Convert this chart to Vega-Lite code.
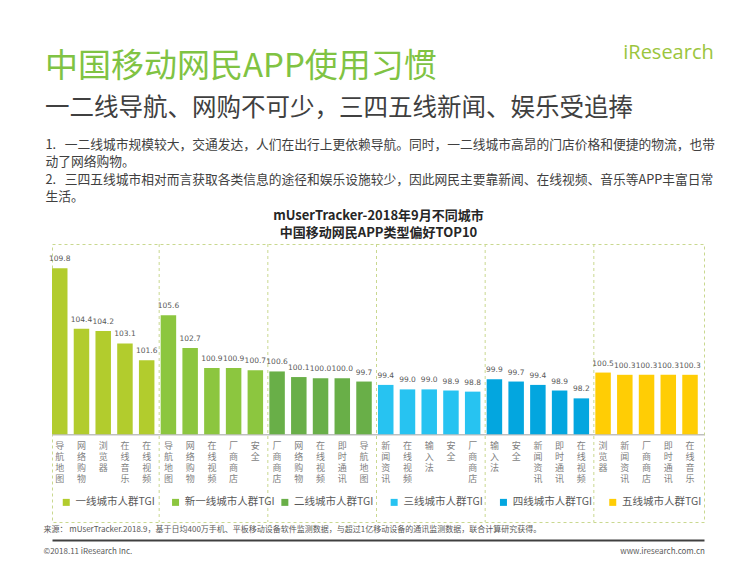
{
  "$schema": "https://vega.github.io/schema/vega-lite/v6.json",
  "width": 652,
  "height": 278,
  "autosize": {"type": "none"},
  "padding": {"left": 52, "top": 244, "right": 46, "bottom": 41},
  "background": "white",
  "config": {
    "view": {"stroke": "#C9D88F", "strokeDash": [3, 3], "strokeWidth": 1},
    "font": "Noto Sans CJK SC"
  },
  "title": {
    "text": "中国移动网民APP使用习惯",
    "subtitle": "一二线导航、网购不可少，三四五线新闻、娱乐受追捧",
    "anchor": "start",
    "frame": "group",
    "orient": "top",
    "dx": -7,
    "offset": -78,
    "font": "Noto Sans CJK SC",
    "fontSize": 33,
    "fontWeight": "normal",
    "color": "#80C343",
    "subtitleFont": "Noto Sans CJK SC",
    "subtitleFontSize": 24.5,
    "subtitleColor": "#404040",
    "subtitlePadding": 13
  },
  "data": {
    "values": [
      {"tier": "一线城市人群TGI", "rank": 1, "app": "导航地图", "tgi": 109.8},
      {"tier": "一线城市人群TGI", "rank": 2, "app": "网络购物", "tgi": 104.4},
      {"tier": "一线城市人群TGI", "rank": 3, "app": "浏览器", "tgi": 104.2},
      {"tier": "一线城市人群TGI", "rank": 4, "app": "在线音乐", "tgi": 103.1},
      {"tier": "一线城市人群TGI", "rank": 5, "app": "在线视频", "tgi": 101.6},
      {"tier": "新一线城市人群TGI", "rank": 1, "app": "导航地图", "tgi": 105.6},
      {"tier": "新一线城市人群TGI", "rank": 2, "app": "网络购物", "tgi": 102.7},
      {"tier": "新一线城市人群TGI", "rank": 3, "app": "在线视频", "tgi": 100.9},
      {"tier": "新一线城市人群TGI", "rank": 4, "app": "厂商商店", "tgi": 100.9},
      {"tier": "新一线城市人群TGI", "rank": 5, "app": "安全", "tgi": 100.7},
      {"tier": "二线城市人群TGI", "rank": 1, "app": "厂商商店", "tgi": 100.6},
      {"tier": "二线城市人群TGI", "rank": 2, "app": "网络购物", "tgi": 100.1},
      {"tier": "二线城市人群TGI", "rank": 3, "app": "在线视频", "tgi": 100.0},
      {"tier": "二线城市人群TGI", "rank": 4, "app": "即时通讯", "tgi": 100.0},
      {"tier": "二线城市人群TGI", "rank": 5, "app": "导航地图", "tgi": 99.7},
      {"tier": "三线城市人群TGI", "rank": 1, "app": "新闻资讯", "tgi": 99.4},
      {"tier": "三线城市人群TGI", "rank": 2, "app": "在线视频", "tgi": 99.0},
      {"tier": "三线城市人群TGI", "rank": 3, "app": "输入法", "tgi": 99.0},
      {"tier": "三线城市人群TGI", "rank": 4, "app": "安全", "tgi": 98.9},
      {"tier": "三线城市人群TGI", "rank": 5, "app": "厂商商店", "tgi": 98.8},
      {"tier": "四线城市人群TGI", "rank": 1, "app": "输入法", "tgi": 99.9},
      {"tier": "四线城市人群TGI", "rank": 2, "app": "安全", "tgi": 99.7},
      {"tier": "四线城市人群TGI", "rank": 3, "app": "新闻资讯", "tgi": 99.4},
      {"tier": "四线城市人群TGI", "rank": 4, "app": "即时通讯", "tgi": 98.9},
      {"tier": "四线城市人群TGI", "rank": 5, "app": "在线视频", "tgi": 98.2},
      {"tier": "五线城市人群TGI", "rank": 1, "app": "浏览器", "tgi": 100.5},
      {"tier": "五线城市人群TGI", "rank": 2, "app": "新闻资讯", "tgi": 100.3},
      {"tier": "五线城市人群TGI", "rank": 3, "app": "厂商商店", "tgi": 100.3},
      {"tier": "五线城市人群TGI", "rank": 4, "app": "即时通讯", "tgi": 100.3},
      {"tier": "五线城市人群TGI", "rank": 5, "app": "在线音乐", "tgi": 100.3}
    ]
  },
  "transform": [{"calculate": "datum.tier + '|' + datum.app", "as": "key"}],
  "layer": [
    {
      "mark": {"type": "rule", "strokeDash": [3, 3], "color": "#C9D88F", "strokeWidth": 1, "xOffset": -1.5},
      "encoding": {
        "x": {"field": "key", "type": "nominal", "sort": null, "bandPosition": 0, "axis": null},
        "strokeOpacity": {
          "condition": {"test": "datum.rank === 1 && datum.tier !== '一线城市人群TGI'", "value": 1},
          "value": 0
        }
      }
    },
    {
      "mark": {"type": "bar"},
      "encoding": {
        "x": {
          "field": "key",
          "type": "nominal",
          "sort": null,
          "scale": {"paddingInner": 0.287, "paddingOuter": 0.1435, "align": 0},
          "axis": {
            "orient": "bottom",
            "offset": -87.7,
            "domainColor": "#BFBFBF",
            "domainWidth": 1.5,
            "ticks": false,
            "grid": false,
            "labelExpr": "split(split(datum.value, '|')[1], '')",
            "labelAngle": 0,
            "labelAlign": "center",
            "labelBaseline": "top",
            "labelPadding": 7,
            "labelFont": "Noto Sans CJK SC",
            "labelFontSize": 9,
            "labelLineHeight": 11,
            "labelColor": "#7F7F7F",
            "labelOverlap": false,
            "labelBound": false,
            "title": [
              "来源： mUserTracker.2018.9，基于日均400万手机、平板移动设备软件监测数据，与超过1亿移动设备的通讯监测数据，联合计算研究获得。",
              "©2018.11 iResearch Inc.\u3000\u3000\u3000\u3000\u3000\u3000\u3000\u3000\u3000\u3000\u3000\u3000\u3000\u3000\u3000\u3000\u3000\u3000\u3000\u3000\u3000\u3000\u3000\u3000\u3000\u3000\u3000\u3000\u3000\u3000\u3000\u3000\u3000\u3000\u3000\u3000\u3000\u3000\u3000\u3000\u3000\u3000\u3000\u3000\u3000\u3000\u3000\u3000\u3000\u3000\u3000\u3000\u3000\u3000\u3000\u3000\u3000\u3000\u3000\u3000\u3000www.iresearch.com.cn"
            ],
            "titleX": -9,
            "titleY": 96.7,
            "titleAlign": "left",
            "titleBaseline": "alphabetic",
            "titleFont": "Noto Sans CJK SC",
            "titleFontSize": 8,
            "titleFontWeight": "normal",
            "titleColor": "#595959",
            "titleLineHeight": 22,
            "titleLimit": 2000
          }
        },
        "y": {
          "field": "tgi",
          "type": "quantitative",
          "scale": {"domain": [87.18, 111.96], "nice": false, "zero": false},
          "axis": {
            "orient": "left",
            "domain": false,
            "ticks": false,
            "labels": false,
            "grid": false,
            "title": [
              "1.\u00a0\u00a0\u00a0一二线城市规模较大，交通发达，人们在出行上更依赖导航。同时，一二线城市高昂的门店价格和便捷的物流，也带",
              "\u3000\u00a0\u00a0动了网络购物。",
              "2.\u00a0\u00a0\u00a0三四五线城市相对而言获取各类信息的途径和娱乐设施较少，因此网民主要靠新闻、在线视频、音乐等APP丰富日常",
              "\u3000\u00a0\u00a0生活。"
            ],
            "titleAngle": 0,
            "titleX": -7,
            "titleY": -96,
            "titleAlign": "left",
            "titleBaseline": "alphabetic",
            "titleFont": "Noto Sans CJK SC",
            "titleFontSize": 12.75,
            "titleFontWeight": "normal",
            "titleColor": "#404040",
            "titleLineHeight": 17.5,
            "titleLimit": 2000
          }
        },
        "y2": {"datum": 95},
        "color": {
          "field": "tier",
          "type": "nominal",
          "scale": {
            "domain": ["一线城市人群TGI", "新一线城市人群TGI", "二线城市人群TGI", "三线城市人群TGI", "四线城市人群TGI", "五线城市人群TGI"],
            "range": ["#B2CC2D", "#8CC63F", "#69AF48", "#27C3F1", "#03A6DF", "#FFCD05"]
          },
          "legend": {
            "orient": "none",
            "legendX": 9,
            "legendY": 253,
            "direction": "horizontal",
            "columns": 6,
            "gridAlign": "all",
            "columnPadding": 4.3,
            "symbolType": "square",
            "symbolSize": 49,
            "symbolStrokeWidth": 0,
            "labelFont": "Noto Sans CJK SC",
            "labelFontSize": 10.5,
            "labelColor": "#595959",
            "labelOffset": 4,
            "labelLimit": 200,
            "title": null
          }
        }
      }
    },
    {
      "mark": {"type": "text", "dy": -7, "baseline": "alphabetic", "align": "center", "font": "DejaVu Sans", "fontSize": 7.5, "color": "#595959"},
      "encoding": {
        "x": {
          "field": "key",
          "type": "nominal",
          "sort": null,
          "axis": {
            "orient": "top",
            "offset": -296,
            "labels": false,
            "ticks": true,
            "tickSize": 1,
            "tickOpacity": 0,
            "grid": false,
            "domain": true,
            "domainColor": "#404040",
            "domainWidth": 2,
            "zindex": 2,
            "title": ["mUserTracker-2018年9月不同城市", "中国移动网民APP类型偏好TOP10"],
            "titleX": 326,
            "titleY": -321,
            "titleAlign": "center",
            "titleBaseline": "alphabetic",
            "titleFont": "Noto Sans CJK SC",
            "titleFontSize": 13,
            "titleFontWeight": "bold",
            "titleColor": "#262626",
            "titleLineHeight": 17,
            "titleLimit": 2000
          }
        },
        "y": {
          "field": "tgi",
          "type": "quantitative",
          "axis": {
            "orient": "right",
            "domain": false,
            "ticks": false,
            "labels": false,
            "grid": false,
            "title": "iResearch",
            "titleAngle": 0,
            "titleX": -36,
            "titleY": -186,
            "titleAlign": "center",
            "titleBaseline": "alphabetic",
            "titleFont": "Open Sans",
            "titleFontSize": 20,
            "titleFontWeight": "normal",
            "titleColor": "#9BC53D",
            "titleLimit": 500
          }
        },
        "text": {"field": "tgi", "type": "quantitative", "format": ".1f"}
      }
    }
  ],
  "resolve": {"axis": {"x": "independent", "y": "independent"}}
}
